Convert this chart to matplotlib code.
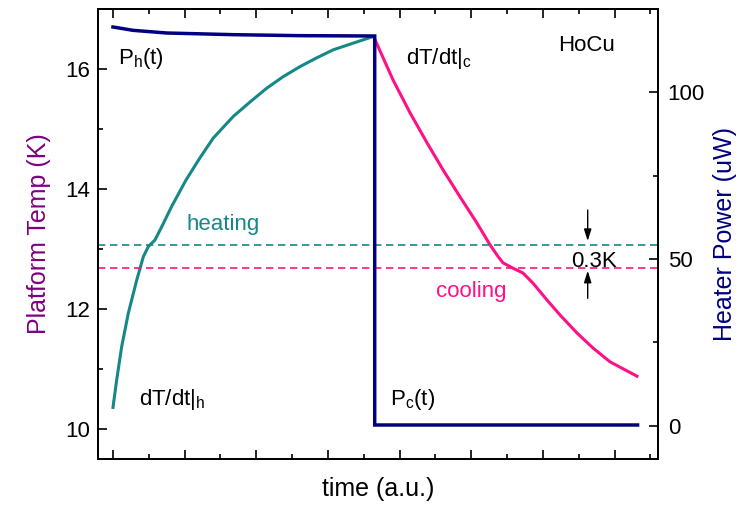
import matplotlib
matplotlib.use('Agg')
import matplotlib.pyplot as plt
import numpy as np

plt.rcParams['font.family'] = ['Liberation Sans', 'DejaVu Sans']
plt.rcParams['mathtext.fontset'] = 'custom'
plt.rcParams['mathtext.rm'] = 'Liberation Sans'
plt.rcParams['mathtext.it'] = 'Liberation Sans:italic'

# ---- data ----
heat_t = [0.0, 0.052, 0.121, 0.214, 0.331, 0.423, 0.493, 0.586, 0.680, 0.819,
          1.019, 1.214, 1.400, 1.679, 1.912, 2.145, 2.372, 2.610, 2.833, 3.074,
          3.349, 3.628]
heat_T = [10.36, 10.82, 11.37, 11.93, 12.48, 12.87, 13.04, 13.15, 13.37, 13.71,
          14.15, 14.52, 14.85, 15.21, 15.45, 15.68, 15.87, 16.04, 16.18, 16.32,
          16.43, 16.54]

cool_t = [3.652, 3.907, 4.145, 4.382, 4.605, 4.842, 5.080, 5.261, 5.370, 5.442,
          5.582, 5.721, 5.861, 6.056, 6.238, 6.475, 6.698, 6.935, 7.312]
cool_T = [16.50, 15.82, 15.27, 14.77, 14.32, 13.87, 13.43, 13.07, 12.88, 12.77,
          12.68, 12.60, 12.43, 12.15, 11.90, 11.60, 11.35, 11.12, 10.88]

power_t = [0.0, 0.279, 0.749, 1.675, 2.610, 3.652, 3.652, 7.32]
power_P = [119.6, 118.6, 117.8, 117.3, 117.0, 116.9, 0.2, 0.2]

T_heat_level = 13.067
T_cool_level = 12.678

temp_ticks = [10, 12, 14, 16]
power_ticks = [0, 50, 100]

teal = '#158888'
pink = '#ff1085'
navy = '#000080'
purple = '#800080'

fig = plt.figure(figsize=(7.44, 5.07), dpi=100)
ax = fig.add_axes([98/744, 48/507, 560/744, 450/507])
ax2 = ax.twinx()

ax.plot(heat_t, heat_T, color=teal, lw=2.2, solid_joinstyle='round')
ax.plot(cool_t, cool_T, color=pink, lw=2.2, solid_joinstyle='round')
ax.axhline(T_heat_level, color=teal, lw=1.2, dashes=(4.4, 2.8))
ax.axhline(T_cool_level, color=pink, lw=1.2, dashes=(4.4, 2.8))
ax2.plot(power_t, power_P, color=navy, lw=2.5, solid_joinstyle='miter')

ax.set_xlim(-0.209, 7.605)
ax.set_ylim(9.5, 17.0)
ax2.set_ylim(-10, 125)

ax.set_xticks(range(8))
ax.set_xticks(np.arange(0.5, 8, 1), minor=True)
ax.set_yticks(temp_ticks)
ax.set_yticks([11, 13, 15], minor=True)
ax2.set_yticks(power_ticks)
ax2.set_yticks([25, 75], minor=True)

ax.tick_params(axis='x', which='both', direction='in', top=True, labelbottom=False)
ax.tick_params(axis='y', which='both', direction='in', right=False, labelsize=16, pad=6)
ax.tick_params(which='major', length=6.5, width=1.2)
ax.tick_params(which='minor', length=3.5, width=1.2)
ax2.tick_params(axis='y', which='both', direction='in', labelsize=16, pad=7)
ax2.tick_params(which='major', length=6.5, width=1.2)
ax2.tick_params(which='minor', length=3.5, width=1.2)

for a in (ax, ax2):
    for s in a.spines.values():
        s.set_linewidth(1.4)

ax.set_xlabel('time (a.u.)', fontsize=18, labelpad=13)
ax.set_ylabel('Platform Temp (K)', fontsize=18, color=purple, labelpad=10)
ax2.set_ylabel('Heater Power (uW)', fontsize=18, color=navy, labelpad=6)

fs = 16
ax.text(0.07, 16.09, r'P$_\mathregular{h}$(t)', fontsize=fs, va='baseline', ha='left')
ax.text(4.089, 16.09, r'dT/dt|$_\mathregular{c}$', fontsize=fs, va='baseline', ha='left')
ax.text(6.214, 16.305, 'HoCu', fontsize=fs, va='baseline', ha='left')
ax.text(1.019, 13.317, 'heating', fontsize=fs, color=teal, va='baseline', ha='left')
ax.text(4.507, 12.2, 'cooling', fontsize=fs, color=pink, va='baseline', ha='left')
ax.text(6.387, 12.705, '0.3K', fontsize=fs, va='baseline', ha='left')
ax.text(0.367, 10.4, r'dT/dt|$_\mathregular{h}$', fontsize=fs, va='baseline', ha='left')
ax.text(3.866, 10.4, r'P$_\mathregular{c}$(t)', fontsize=fs, va='baseline', ha='left')

arrow = dict(arrowstyle='-|>,head_length=0.7,head_width=0.22', color='black',
             lw=1.0, shrinkA=0, shrinkB=0)
ax.annotate('', xy=(6.624, 13.133), xytext=(6.624, 13.65), arrowprops=arrow)
ax.annotate('', xy=(6.624, 12.638), xytext=(6.624, 12.178), arrowprops=arrow)

fig.savefig('out.png', dpi=100)
